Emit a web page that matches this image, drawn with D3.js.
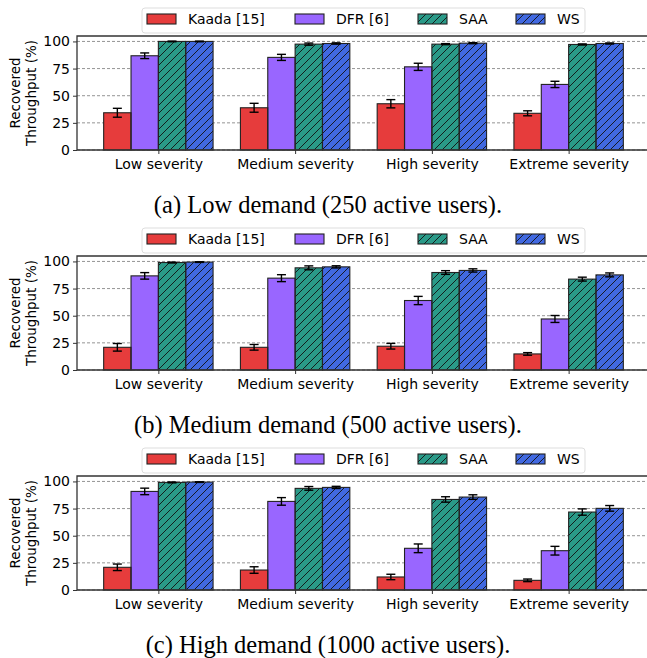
<!DOCTYPE html>
<html>
<head>
<meta charset="utf-8">
<script src="https://cdn.jsdelivr.net/npm/d3@7"></script>
<style>
  body { margin: 0; background: #fff; }
  text { font-family: "DejaVu Sans", sans-serif; }
  text.caption { font-family: "Liberation Serif", "Times New Roman", serif; }
</style>
</head>
<body>
<div id="fig"></div>
<script>

var methods = ["Kaada [15]", "DFR [6]", "SAA", "WS"];
var severities = ["Low severity", "Medium severity", "High severity", "Extreme severity"];
var captions = ["(a) Low demand (250 active users).",
                "(b) Medium demand (500 active users).",
                "(c) High demand (1000 active users)."];
var yTicks = [0, 25, 50, 75, 100];

// means per method, one row per severity (low, medium, high, extreme)
var lowMeans = [[34.3, 86.8, 100, 100], [38.9, 85.3, 97.5, 98.1], [42.6, 76.6, 97.5, 98.4], [33.8, 60.4, 97.2, 98.1]];
var lowErrs = [[4.1, 2.6, 0.3, 0.3], [4.1, 2.8, 1.0, 0.6], [3.8, 3.3, 0.5, 0.5], [2.3, 2.9, 0.5, 0.5]];
var midMeans = [[20.9, 86.7, 99.0, 99.4], [20.9, 84.6, 94.1, 95.0], [21.9, 64.0, 89.8, 91.7], [14.8, 47.0, 83.7, 87.6]];
var midErrs = [[3.5, 3.0, 0.4, 0.3], [2.6, 3.2, 1.8, 1.0], [2.6, 3.8, 1.7, 1.5], [1.2, 3.2, 1.8, 1.8]];
var highMeans = [[20.9, 90.8, 99.1, 99.4], [18.4, 81.6, 93.6, 94.5], [12.0, 38.4, 83.4, 85.6], [8.9, 36.2, 71.8, 75.2]];
var highErrs = [[3.0, 3.0, 0.4, 0.3], [3.0, 3.5, 1.7, 1.0], [2.5, 4.0, 2.5, 2.1], [1.2, 4.0, 2.9, 2.6]];

var colors = ["#e63c3c", "#9966ff", "#2a9a88", "#4169e1"];
var hatched = [false, false, true, true];

var panels = [
    {means: lowMeans, errs: lowErrs, caption: captions[0]},
    {means: midMeans, errs: midErrs, caption: captions[1]},
    {means: highMeans, errs: highErrs, caption: captions[2]}
];

var width = 647, height = 658;
var axLeft = 77, axRight = 650, axHeight = 114, panelStep = 220, firstTop = 36;
var barW = 0.2;

var svg = d3.select("#fig").append("svg")
    .attr("width", width)
    .attr("height", height);

var defs = svg.append("defs");
defs.append("pattern")
    .attr("id", "hatch")
    .attr("patternUnits", "userSpaceOnUse")
    .attr("width", 8)
    .attr("height", 8)
    .append("path")
    .attr("d", "M-2,2 L2,-2 M0,8 L8,0 M6,10 L10,6")
    .attr("stroke", "#111")
    .attr("stroke-width", 0.9);

var x = d3.scaleLinear().domain([-0.595, 3.595]).range([axLeft, axRight]);

panels.forEach(function (p, pi) {
    var top = firstTop + pi * panelStep,
        bottom = top + axHeight;
    var y = d3.scaleLinear().domain([0, 105]).range([bottom, top]);
    var g = svg.append("g");

    // grid
    g.selectAll(".grid")
        .data(yTicks)
        .enter()
        .append("line")
        .attr("x1", axLeft)
        .attr("x2", axRight)
        .attr("y1", function (d) { return y(d); })
        .attr("y2", function (d) { return y(d); })
        .attr("stroke", "#888")
        .attr("stroke-width", 0.9)
        .attr("stroke-dasharray", "3,2");

    // bars
    var rows = [];
    p.means.forEach(function (row, si) {
        row.forEach(function (v, mi) {
            rows.push({s: si, m: mi, v: v, e: p.errs[si][mi]});
        });
    });
    var bx = function (d) { return x(d.s + (d.m - 2) * barW); };
    var bw = x(barW) - x(0);

    g.selectAll(".bar")
        .data(rows)
        .enter()
        .append("rect")
        .attr("x", bx)
        .attr("y", function (d) { return y(d.v); })
        .attr("width", bw)
        .attr("height", function (d) { return y(0) - y(d.v); })
        .attr("fill", function (d) { return colors[d.m]; });

    g.selectAll(".hatch")
        .data(rows.filter(function (d) { return hatched[d.m]; }))
        .enter()
        .append("rect")
        .attr("x", bx)
        .attr("y", function (d) { return y(d.v); })
        .attr("width", bw)
        .attr("height", function (d) { return y(0) - y(d.v); })
        .attr("fill", "url(#hatch)");

    g.selectAll(".edge")
        .data(rows)
        .enter()
        .append("rect")
        .attr("x", bx)
        .attr("y", function (d) { return y(d.v); })
        .attr("width", bw)
        .attr("height", function (d) { return y(0) - y(d.v); })
        .attr("fill", "none")
        .attr("stroke", "#222")
        .attr("stroke-width", 1.1);

    // error bars
    var cx = function (d) { return x(d.s + (d.m - 1.5) * barW); };
    var eb = g.selectAll(".err")
        .data(rows)
        .enter()
        .append("g")
        .attr("stroke", "#000")
        .attr("stroke-width", 1.4);
    eb.append("line")
        .attr("x1", cx).attr("x2", cx)
        .attr("y1", function (d) { return y(d.v - d.e); })
        .attr("y2", function (d) { return y(d.v + d.e); });
    eb.append("line")
        .attr("x1", function (d) { return cx(d) - 4.5; })
        .attr("x2", function (d) { return cx(d) + 4.5; })
        .attr("y1", function (d) { return y(d.v - d.e); })
        .attr("y2", function (d) { return y(d.v - d.e); });
    eb.append("line")
        .attr("x1", function (d) { return cx(d) - 4.5; })
        .attr("x2", function (d) { return cx(d) + 4.5; })
        .attr("y1", function (d) { return y(d.v + d.e); })
        .attr("y2", function (d) { return y(d.v + d.e); });

    // spines
    g.append("path")
        .attr("d", "M" + axRight + "," + top + "H" + axLeft + "V" + bottom + "H" + axRight)
        .attr("fill", "none")
        .attr("stroke", "#333")
        .attr("stroke-width", 1.3);

    // y axis
    var yAxis = d3.axisLeft(y).tickValues(yTicks).tickSize(4).tickPadding(3);
    var ya = g.append("g").attr("transform", "translate(" + axLeft + ",0)").call(yAxis);
    ya.select(".domain").remove();
    ya.selectAll("text").attr("font-size", "14px").attr("fill", "#000").attr("font-family", "DejaVu Sans");
    ya.selectAll("line").attr("stroke", "#333");

    // x axis
    var xAxis = d3.axisBottom(x).tickValues([0, 1, 2, 3])
        .tickFormat(function (d) { return severities[d]; })
        .tickSize(4).tickPadding(5);
    var xa = g.append("g").attr("transform", "translate(0," + bottom + ")").call(xAxis);
    xa.select(".domain").remove();
    xa.selectAll("text").attr("font-size", "14px").attr("fill", "#000").attr("font-family", "DejaVu Sans");
    xa.selectAll("line").attr("stroke", "#333");

    // y label
    var yl = g.append("text")
        .attr("transform", "translate(0," + (top + axHeight / 2) + ") rotate(-90)")
        .attr("text-anchor", "middle")
        .attr("font-size", "13.5px");
    yl.append("tspan").attr("x", 0).attr("y", 20).text("Recovered");
    yl.append("tspan").attr("x", 0).attr("y", 36).text("Throughput (%)");

    // legend
    var lg = g.append("g").attr("transform", "translate(0," + (top - 28) + ")");
    lg.append("rect")
        .attr("x", 142).attr("y", 0)
        .attr("width", 443).attr("height", 25)
        .attr("rx", 3)
        .attr("fill", "#fff")
        .attr("fill-opacity", 0.85)
        .attr("stroke", "#ddd");
    var patchX = [147, 295, 418, 516];
    var items = lg.selectAll(".item")
        .data(methods)
        .enter()
        .append("g")
        .attr("transform", function (d, i) { return "translate(" + patchX[i] + ",6)"; });
    items.append("rect")
        .attr("width", 29).attr("height", 10)
        .attr("fill", function (d, i) { return colors[i]; });
    items.filter(function (d, i) { return hatched[i]; })
        .append("rect")
        .attr("width", 29).attr("height", 10)
        .attr("fill", "url(#hatch)");
    items.append("rect")
        .attr("width", 29).attr("height", 10)
        .attr("fill", "none")
        .attr("stroke", "#222")
        .attr("stroke-width", 1.1);
    items.append("text")
        .attr("x", 41)
        .attr("y", 10)
        .attr("font-size", "14px")
        .text(function (d) { return d; });

    // caption
    g.append("text")
        .attr("class", "caption")
        .attr("x", 328)
        .attr("y", bottom + 63)
        .attr("text-anchor", "middle")
        .attr("font-size", "24.5px")
        .text(p.caption);
});

</script>
</body>
</html>
